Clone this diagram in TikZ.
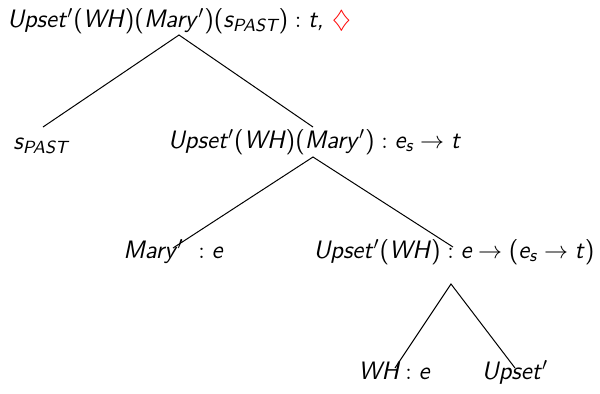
\documentclass[tikz,border=0pt]{standalone}
\usepackage{amssymb}
\usepackage{xcolor}
% sans italic letters, upright parentheses, math primes and arrows
\newcommand\pp[1]{\textup{(}#1\textup{)}}
\newcommand\pr{\/$'$}
\newcommand\col{${}:{}$}
\newcommand\arr{${}\to{}$}
\newcommand\lo[1]{\textsubscript{#1}}
\begin{document}
\begin{tikzpicture}[x=0.5pt,y=-0.5pt,
  lbl/.style={font=\fontsize{12.6}{15}\sffamily\itshape, inner sep=0pt, anchor=base},
  branch/.style={line width=0.5pt}]
\useasboundingbox (0,0) rectangle (600,393);

% labels
\node[lbl] (root)  at (179,27)  {Upset\pr\pp{WH}\pp{Mary\pr}\pp{s\lo{PAST}}\col t, \textcolor{red}{$\diamondsuit$}};
\node[lbl] (spast) at (41,149)  {s\lo{PAST}};
\node[lbl] (vp)    at (314,148) {Upset\pr\pp{WH}\pp{Mary\pr}\col e\lo{s}\arr t};
\node[lbl] (mary)  at (173,258) {Mary\pr\ \col e};
\node[lbl] (vwh)   at (454,258) {Upset\pr\pp{WH}\col e\arr\pp{e\lo{s}\arr t}};
\node[lbl] (wh)    at (394,379) {WH\col e};
\node[lbl] (upset) at (515,379) {Upset\pr};

% branch points
\coordinate (root-b)  at (179,35);
\coordinate (spast-t) at (43,127);
\coordinate (vp-t)    at (313,127);
\coordinate (vp-b)    at (313,157);
\coordinate (mary-t)  at (173,248);
\coordinate (vwh-t)   at (453,247);
\coordinate (vwh-b)   at (451,284);
\coordinate (wh-t)    at (395,368);
\coordinate (upset-t) at (515,368);

% branches
\draw[branch] (spast-t) -- (root-b) -- (vp-t);
\draw[branch] (mary-t) -- (vp-b) -- (vwh-t);
\draw[branch] (wh-t) -- (vwh-b) -- (upset-t);
\end{tikzpicture}
\end{document}
